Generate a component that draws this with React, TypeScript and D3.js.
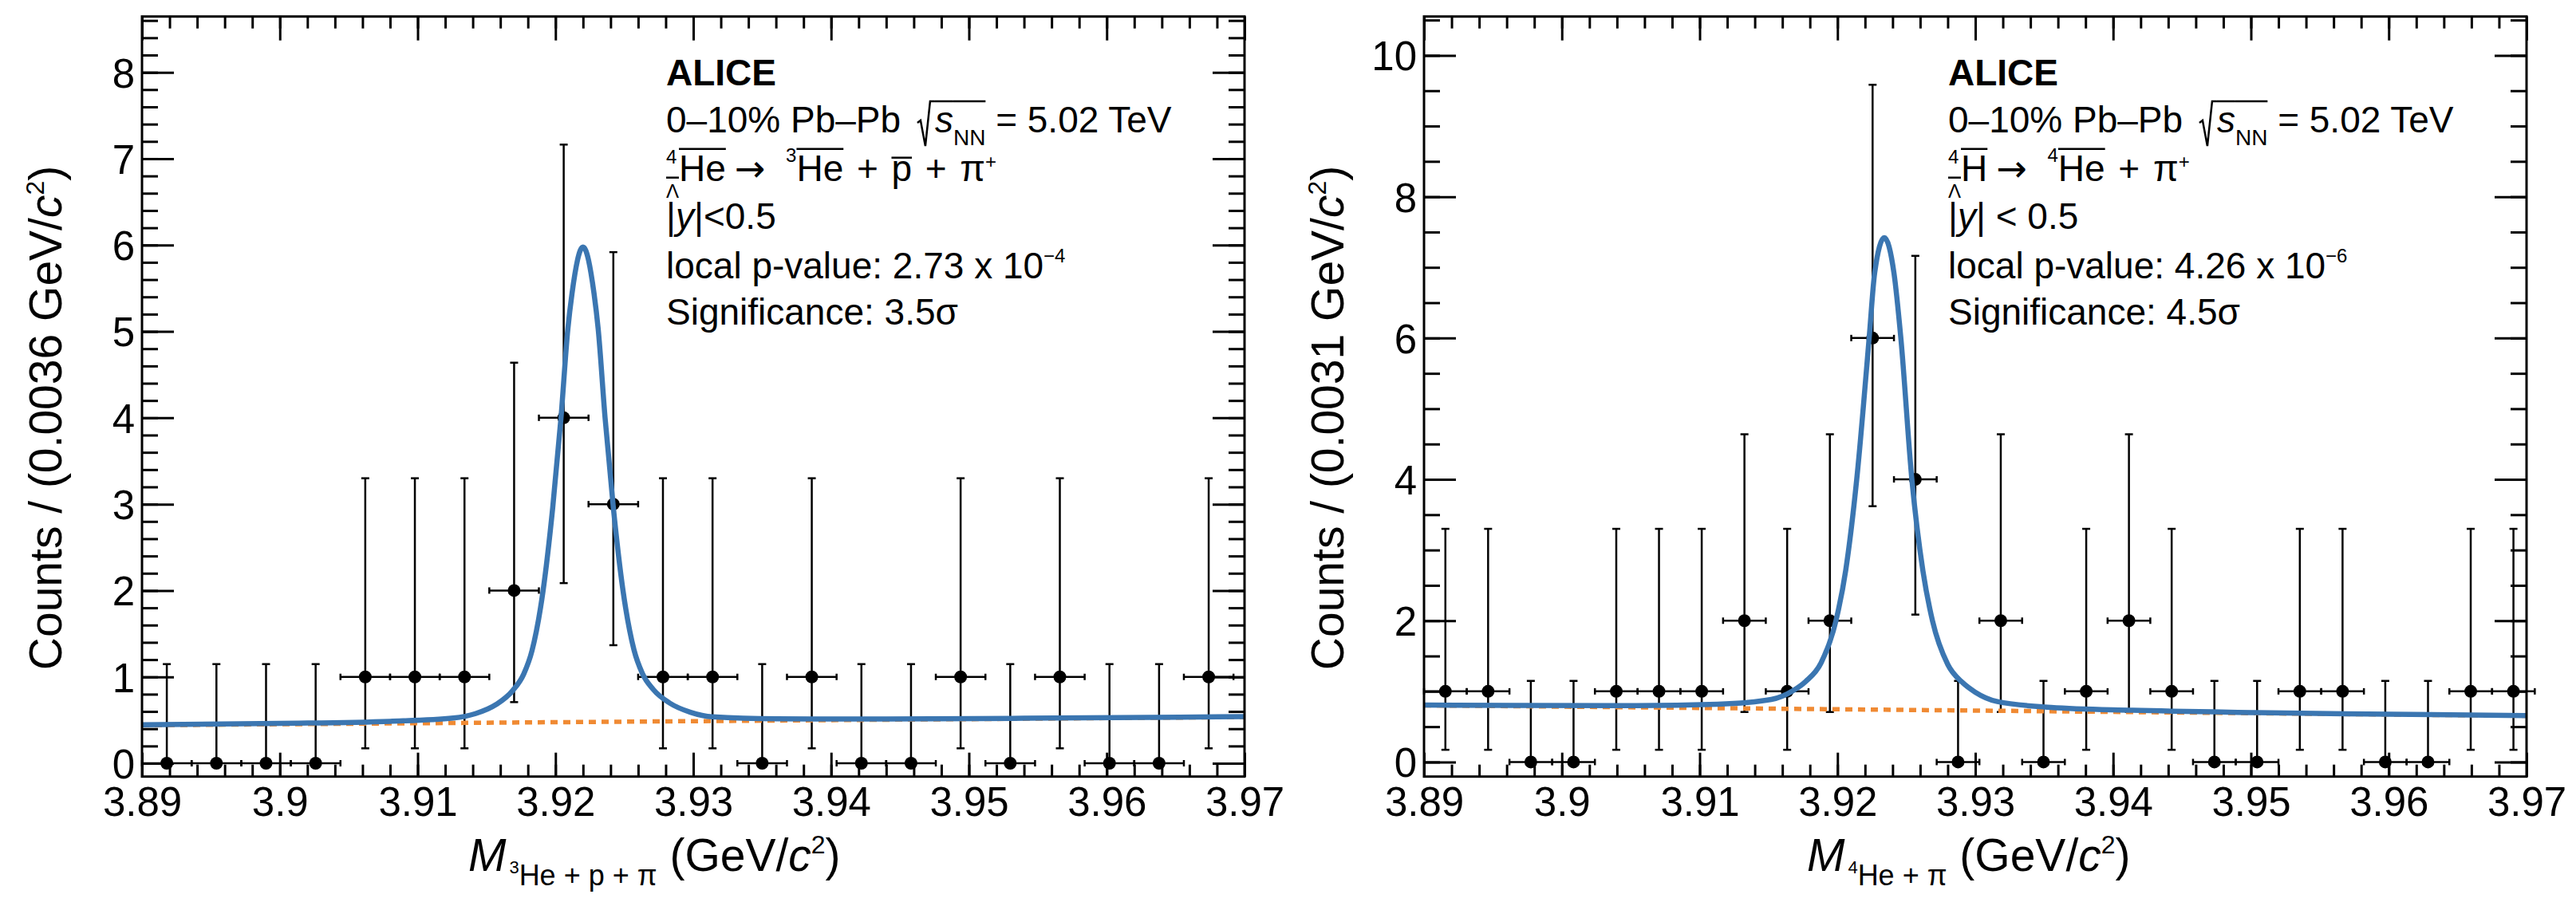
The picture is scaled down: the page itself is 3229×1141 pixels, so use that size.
import React, { useEffect, useRef } from "react";
import * as d3 from "d3";

const WIDTH = 3229;
const HEIGHT = 1141;
const FONT = "'Liberation Sans', Arial, Helvetica, sans-serif";
const ARROW_FONT = "'DejaVu Sans', sans-serif";

// histogram binning (GeV/c^2)
const massRange = [3.89, 3.97];
const leftBinWidth = 0.0036;
const rightBinWidth = 0.0031;

// counts per bin
const leftCounts = [0, 0, 0, 0, 1, 1, 1, 2, 4, 3, 1, 1, 0, 1, 0, 0, 1, 0, 1, 0, 0, 1];
const rightCounts = [1, 1, 0, 0, 1, 1, 1, 2, 1, 2, 6, 4, 0, 2, 0, 1, 2, 1, 0, 0, 1, 1, 0, 0, 1, 1];

// poisson 68% interval, indexed by count
const poissonLow = [0, 0.173, 0.708, 1.367, 2.086, 2.84, 3.62];
const poissonHigh = [1.148, 3.3, 4.638, 5.918, 7.163, 8.382, 9.584];

// fit curves
const leftFit: [number, number][] = [
  [3.89, 0.445], [3.9, 0.462], [3.908, 0.486], [3.9126, 0.524], [3.9142, 0.575],
  [3.9157, 0.681], [3.9169, 0.842], [3.9177, 1.033], [3.9183, 1.304], [3.9191, 1.995],
  [3.9198, 2.956], [3.9204, 3.996], [3.9209, 5.027], [3.9212, 5.437], [3.922, 5.978],
  [3.9228, 5.439], [3.9231, 5.03], [3.9236, 4.0], [3.9242, 2.961], [3.9249, 2.002],
  [3.9257, 1.313], [3.9263, 1.043], [3.9271, 0.854], [3.9283, 0.696], [3.9298, 0.59],
  [3.9314, 0.537], [3.936, 0.515], [3.944, 0.512], [3.954, 0.521], [3.97, 0.54],
];
const rightFit: [number, number][] = [
  [3.89, 0.806], [3.8964, 0.8], [3.9054, 0.798], [3.9113, 0.818], [3.9152, 0.885],
  [3.9168, 1.012], [3.9177, 1.141], [3.9188, 1.399], [3.9199, 2.007], [3.9206, 2.715],
  [3.9214, 4.004], [3.9223, 6.002], [3.9227, 6.922], [3.9234, 7.42], [3.9241, 6.919],
  [3.9246, 5.998], [3.9254, 3.996], [3.9262, 2.705], [3.9269, 1.994], [3.928, 1.382],
  [3.9291, 1.12], [3.93, 0.988], [3.9316, 0.855], [3.9355, 0.773], [3.9414, 0.732],
  [3.9504, 0.7], [3.9568, 0.683], [3.97, 0.658],
];
const leftBkg: [number, number][] = [[3.89, 0.44], [3.97, 0.535]];
const rightBkg: [number, number][] = [[3.89, 0.802], [3.97, 0.654]];

// axes
const xTicks = [3.89, 3.9, 3.91, 3.92, 3.93, 3.94, 3.95, 3.96, 3.97];
const xTickLabels = ["3.89", "3.9", "3.91", "3.92", "3.93", "3.94", "3.95", "3.96", "3.97"];
const xMinorStep = 0.002;
const leftYTicks = [0, 1, 2, 3, 4, 5, 6, 7, 8];
const leftYTickLabels = ["0", "1", "2", "3", "4", "5", "6", "7", "8"];
const leftYMinorStep = 0.2;
const leftYRange = [-0.154, 8.646];
const rightYTicks = [0, 2, 4, 6, 8, 10];
const rightYTickLabels = ["0", "2", "4", "6", "8", "10"];
const rightYMinorStep = 0.5;
const rightYRange = [-0.206, 10.55];

type Run = {
  t?: string;
  s?: number;
  dy?: number;
  i?: boolean;
  b?: boolean;
  f?: string;
  ol?: number;
  stack?: Run[];
  rad?: boolean;
};

const SUP = 24;
const plus: Run[] = [{ t: " ", s: 60 }, { t: "+" }, { t: " ", s: 60 }];
const arrow: Run[] = [{ t: " ", s: 40 }, { t: "→", f: ARROW_FONT, s: 46 }, { t: "  ", s: 46 }];
const hyper: Run = { stack: [{ t: "4", s: SUP, dy: -22 }, { t: "Λ", s: 24, dy: 21, ol: -4 }] };
const sqrtS: Run[] = [
  { t: "0–10% Pb–Pb " }, { rad: true }, { t: "s", i: true, ol: -39 },
  { t: "NN", s: 28, dy: 16, ol: -39 }, { t: " = 5.02 TeV" },
];

const leftText: Run[][] = [
  [{ t: "ALICE", b: true }],
  sqrtS,
  [
    hyper, { t: "He", ol: -40 }, ...arrow, { t: "3", s: SUP, dy: -24 }, { t: "He", ol: -40 },
    ...plus, { t: "p", ol: -29 }, ...plus, { t: "π" }, { t: "+", s: SUP, dy: -16 },
  ],
  [{ t: "|" }, { t: "y", i: true }, { t: "|<0.5" }],
  [{ t: "local p-value: 2.73 x 10" }, { t: "−4", s: SUP, dy: -20 }],
  [{ t: "Significance: 3.5σ" }],
];
const rightText: Run[][] = [
  [{ t: "ALICE", b: true }],
  sqrtS,
  [
    hyper, { t: "H", ol: -40 }, ...arrow, { t: "4", s: SUP, dy: -24 }, { t: "He", ol: -40 },
    ...plus, { t: "π" }, { t: "+", s: SUP, dy: -16 },
  ],
  [{ t: "|" }, { t: "y", i: true }, { t: "| < 0.5" }],
  [{ t: "local p-value: 4.26 x 10" }, { t: "−6", s: SUP, dy: -20 }],
  [{ t: "Significance: 4.5σ" }],
];
const textBaselines = [106.7, 166, 226.7, 286.7, 349, 406.7];

const leftXTitle: Run[] = [
  { t: "M", s: 57, i: true }, { t: " ", s: 14 }, { t: "3", s: 22, dy: 3 },
  { t: "He + p + π", s: 36, dy: 18 }, { t: " (GeV/", s: 57 }, { t: "c", s: 57, i: true },
  { t: "2", s: 32, dy: -22 }, { t: ")", s: 57 },
];
const rightXTitle: Run[] = [
  { t: "M", s: 57, i: true }, { t: " ", s: 14 }, { t: "4", s: 22, dy: 3 },
  { t: "He + π", s: 36, dy: 18 }, { t: " (GeV/", s: 57 }, { t: "c", s: 57, i: true },
  { t: "2", s: 32, dy: -22 }, { t: ")", s: 57 },
];
const leftYTitle: Run[] = [
  { t: "Counts / (0.0036 GeV/", s: 57 }, { t: "c", s: 57, i: true },
  { t: "2", s: 32, dy: -22 }, { t: ")", s: 57 },
];
const rightYTitle: Run[] = [
  { t: "Counts / (0.0031 GeV/", s: 57 }, { t: "c", s: 57, i: true },
  { t: "2", s: 32, dy: -22 }, { t: ")", s: 57 },
];

type Sel = d3.Selection<any, unknown, null, undefined>;

function drawRuns(parent: Sel, runs: Run[], x: number, y: number, anchor = "start", size = 46) {
  const grp = parent.append("g");
  let cx = 0;
  const place = (r: Run, px: number) => {
    const t = grp
      .append("text")
      .attr("x", px)
      .attr("y", r.dy ?? 0)
      .attr("font-size", r.s ?? size)
      .style("white-space", "pre")
      .text(r.t ?? "");
    if (r.i) t.attr("font-style", "italic");
    if (r.b) t.attr("font-weight", "bold");
    if (r.f) t.attr("font-family", r.f);
    const w = (t.node() as SVGTextElement).getComputedTextLength();
    if (r.ol !== undefined) {
      grp.append("line")
        .attr("x1", px).attr("x2", px + w)
        .attr("y1", r.ol).attr("y2", r.ol)
        .attr("stroke", "#000").attr("stroke-width", 2.5);
    }
    return w;
  };
  for (const r of runs) {
    if (r.stack) {
      cx += d3.max(r.stack.map((q) => place(q, cx))) ?? 0;
    } else if (r.rad) {
      cx += 8;
      grp.append("path")
        .attr("d", `M${cx},-12L${cx + 4},-15L${cx + 10},17L${cx + 16},-39L${cx + 22},-39`)
        .attr("fill", "none").attr("stroke", "#000").attr("stroke-width", 2.5);
      cx += 22;
    } else {
      cx += place(r, cx);
    }
  }
  const off = anchor === "middle" ? -cx / 2 : anchor === "end" ? -cx : 0;
  grp.attr("transform", `translate(${x + off},${y})`);
}

type PanelConf = {
  left: number;
  binWidth: number;
  counts: number[];
  fit: [number, number][];
  bkg: [number, number][];
  yRange: number[];
  yTicks: number[];
  yTickLabels: string[];
  yMinorStep: number;
  text: Run[][];
  xTitle: Run[];
  xTitleX: number;
  yTitle: Run[];
};

const TOP = 20.7;
const BOTTOM = 973.7;
const FRAME_W = 1382;

function drawPanel(svg: Sel, c: PanelConf) {
  const right = c.left + FRAME_W;
  const x = d3.scaleLinear().domain(massRange).range([c.left, right]);
  const y = d3.scaleLinear().domain(c.yRange).range([BOTTOM, TOP]);
  const g = svg.append("g");

  const xMinor = d3.range(0, Math.round((massRange[1] - massRange[0]) / xMinorStep) + 1)
    .map((k) => massRange[0] + k * xMinorStep);
  const yMinor = d3.range(0, Math.floor(c.yRange[1] / c.yMinorStep) + 1).map((k) => k * c.yMinorStep);

  const styleAxis = (a: Sel) => {
    a.select(".domain").remove();
    a.selectAll("line").attr("stroke", "#000").attr("stroke-width", 3);
    a.selectAll("text").attr("font-size", 51).attr("font-family", FONT).attr("fill", "#000");
  };
  const blank = () => "";

  // ticks on all four sides, pointing in
  g.append("g").attr("transform", `translate(0,${BOTTOM})`)
    .call(d3.axisBottom(x).tickValues(xMinor).tickSize(-15).tickFormat(blank)).call(styleAxis);
  g.append("g").attr("transform", `translate(0,${BOTTOM})`)
    .call(d3.axisBottom(x).tickValues(xTicks).tickSize(-30).tickPadding(13)
      .tickFormat((d, i) => xTickLabels[i])).call(styleAxis);
  g.append("g").attr("transform", `translate(0,${TOP})`)
    .call(d3.axisTop(x).tickValues(xMinor).tickSize(-15).tickFormat(blank)).call(styleAxis);
  g.append("g").attr("transform", `translate(0,${TOP})`)
    .call(d3.axisTop(x).tickValues(xTicks).tickSize(-30).tickFormat(blank)).call(styleAxis);

  g.append("g").attr("transform", `translate(${c.left},0)`)
    .call(d3.axisLeft(y).tickValues(yMinor).tickSize(-20).tickFormat(blank)).call(styleAxis);
  const gy = g.append("g").attr("transform", `translate(${c.left},0)`)
    .call(d3.axisLeft(y).tickValues(c.yTicks).tickSize(-40).tickPadding(9)
      .tickFormat((d, i) => c.yTickLabels[i])).call(styleAxis);
  gy.selectAll("text").attr("dy", "0.36em");
  g.append("g").attr("transform", `translate(${right},0)`)
    .call(d3.axisRight(y).tickValues(yMinor).tickSize(-20).tickFormat(blank)).call(styleAxis);
  g.append("g").attr("transform", `translate(${right},0)`)
    .call(d3.axisRight(y).tickValues(c.yTicks).tickSize(-40).tickFormat(blank)).call(styleAxis);

  // data points with poisson errors
  const pts = c.counts.map((n, i) => ({
    m: massRange[0] + (i + 0.5) * c.binWidth,
    n,
    lo: poissonLow[n],
    hi: poissonHigh[n],
  }));
  const data = g.append("g").attr("stroke", "#000").attr("stroke-width", 2.5);
  const cap = 5;
  pts.forEach((p) => {
    const px = x(p.m);
    const py = y(p.n);
    const x0 = x(p.m - c.binWidth / 2);
    const x1 = x(p.m + c.binWidth / 2);
    data.append("line").attr("x1", px).attr("x2", px).attr("y1", y(p.lo)).attr("y2", y(p.hi));
    data.append("line").attr("x1", px - cap).attr("x2", px + cap).attr("y1", y(p.hi)).attr("y2", y(p.hi));
    data.append("line").attr("x1", px - cap).attr("x2", px + cap).attr("y1", y(p.lo)).attr("y2", y(p.lo));
    data.append("line").attr("x1", x0).attr("x2", x1).attr("y1", py).attr("y2", py);
    data.append("line").attr("x1", x0).attr("x2", x0).attr("y1", py - 4).attr("y2", py + 4);
    data.append("line").attr("x1", x1).attr("x2", x1).attr("y1", py - 4).attr("y2", py + 4);
  });
  g.append("g").selectAll("circle").data(pts).enter().append("circle")
    .attr("cx", (p) => x(p.m)).attr("cy", (p) => y(p.n)).attr("r", 8).attr("fill", "#000");

  // background and total fit
  const line = d3.line<[number, number]>().x((d) => x(d[0])).y((d) => y(d[1]));
  g.append("path").datum(c.bkg).attr("d", line)
    .attr("fill", "none").attr("stroke", "#f08a33").attr("stroke-width", 5.5)
    .attr("stroke-dasharray", "9 7");
  g.append("path").datum(c.fit).attr("d", line.curve(d3.curveMonotoneX))
    .attr("fill", "none").attr("stroke", "#3b76b1").attr("stroke-width", 6.5)
    .attr("stroke-linejoin", "round");

  g.append("rect").attr("x", c.left).attr("y", TOP).attr("width", FRAME_W).attr("height", BOTTOM - TOP)
    .attr("fill", "none").attr("stroke", "#000").attr("stroke-width", 3);

  // legend text
  c.text.forEach((runs, i) => drawRuns(g, runs, c.left + 657, textBaselines[i]));

  // axis titles
  drawRuns(g, c.xTitle, c.xTitleX, 1092);
  const yt = g.append("g").attr("transform", `translate(${c.left - 101},524) rotate(-90)`);
  drawRuns(yt, c.yTitle, 0, 0, "middle");
}

const App: React.FC = () => {
  const ref = useRef<SVGSVGElement>(null);

  useEffect(() => {
    const svg = d3.select(ref.current);
    svg.selectAll("*").remove();
    drawPanel(svg as any, {
      left: 178,
      binWidth: leftBinWidth,
      counts: leftCounts,
      fit: leftFit,
      bkg: leftBkg,
      yRange: leftYRange,
      yTicks: leftYTicks,
      yTickLabels: leftYTickLabels,
      yMinorStep: leftYMinorStep,
      text: leftText,
      xTitle: leftXTitle,
      xTitleX: 587,
      yTitle: leftYTitle,
    });
    drawPanel(svg as any, {
      left: 1785,
      binWidth: rightBinWidth,
      counts: rightCounts,
      fit: rightFit,
      bkg: rightBkg,
      yRange: rightYRange,
      yTicks: rightYTicks,
      yTickLabels: rightYTickLabels,
      yMinorStep: rightYMinorStep,
      text: rightText,
      xTitle: rightXTitle,
      xTitleX: 2265,
      yTitle: rightYTitle,
    });
  }, []);

  return (
    <svg
      ref={ref}
      width={WIDTH}
      height={HEIGHT}
      fontFamily={FONT}
      style={{ position: "absolute", left: 0, top: 0, background: "#fff" }}
    />
  );
};

export default App;
